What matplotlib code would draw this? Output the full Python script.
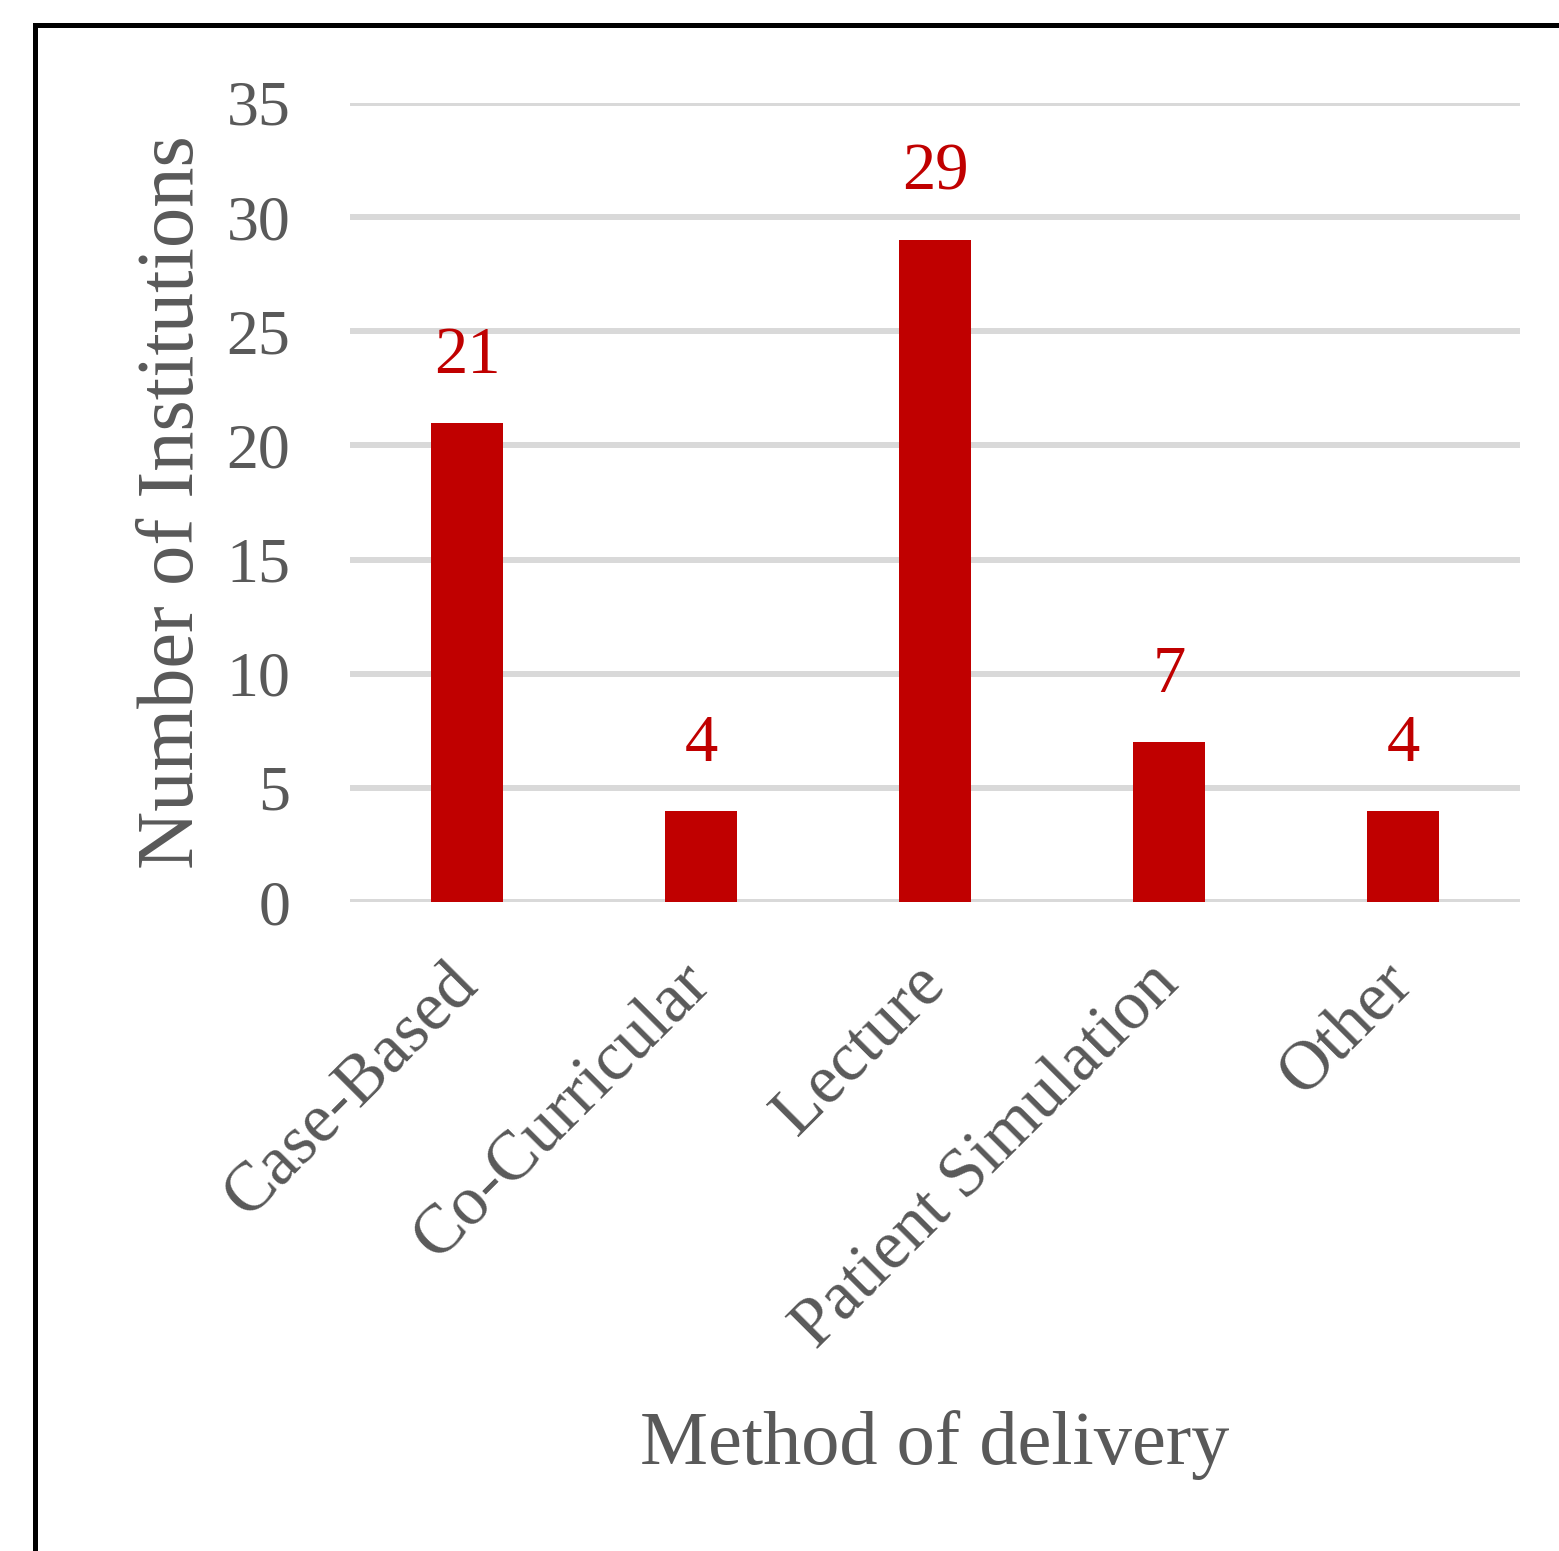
import matplotlib
matplotlib.use("Agg")
import matplotlib.pyplot as plt
from matplotlib.patches import Rectangle

categories = ["Case-Based", "Co-Curricular", "Lecture", "Patient Simulation", "Other"]
counts = [21, 4, 29, 7, 4]
y_ticks = [0, 5, 10, 15, 20, 25, 30, 35]

BAR_RED = "#C00000"
GREY_TXT = "#595959"
GRID = "#D9D9D9"

plt.rcParams["font.family"] = ["Liberation Serif", "DejaVu Serif"]

fig = plt.figure(figsize=(15.59, 15.51), dpi=100)
ax = fig.add_axes([0.2245, 0.4184, 0.7505, 0.5152])

x = range(len(categories))
ax.bar(x, counts, width=0.31, color=BAR_RED, zorder=3)

# value labels above bars
for xi, v in zip(x, counts):
    ax.annotate(str(v), (xi, v), xytext=(0, 36), textcoords="offset points",
                ha="center", va="baseline", color=BAR_RED, fontsize=48)

ax.set_xlim(-0.5, len(categories) - 0.5)
ax.set_ylim(0, 35)
ax.set_yticks(y_ticks)
ax.set_yticklabels([str(t) for t in y_ticks], fontsize=46, color=GREY_TXT)
ax.set_xticks(list(x))
ax.set_xticklabels(categories, fontsize=50, color=GREY_TXT, rotation=45,
                   ha="right", va="center", rotation_mode="anchor")
ax.tick_params(axis="x", length=0, pad=52)
ax.tick_params(axis="y", length=0, pad=43)

ax.grid(axis="y", color=GRID, linewidth=4.3, zorder=0)
ax.set_axisbelow(True)
for s in ax.spines.values():
    s.set_visible(False)

ax.set_ylabel("Number of Institutions", fontsize=58, color=GREY_TXT, labelpad=12)
ax.set_xlabel("Method of delivery", fontsize=55, color=GREY_TXT)
ax.xaxis.set_label_coords(0.5, -0.68)
ax.xaxis.label.set_va("center")

# black frame around the chart (cropped on right and bottom)
frame = Rectangle((35 / 1559, -0.05), 1.1, (1551 - 25) / 1551 + 0.05,
                  transform=fig.transFigure, fill=False, edgecolor="black",
                  linewidth=3.6, clip_on=False)
fig.patches.append(frame)

fig.savefig("out.png", dpi=100)
